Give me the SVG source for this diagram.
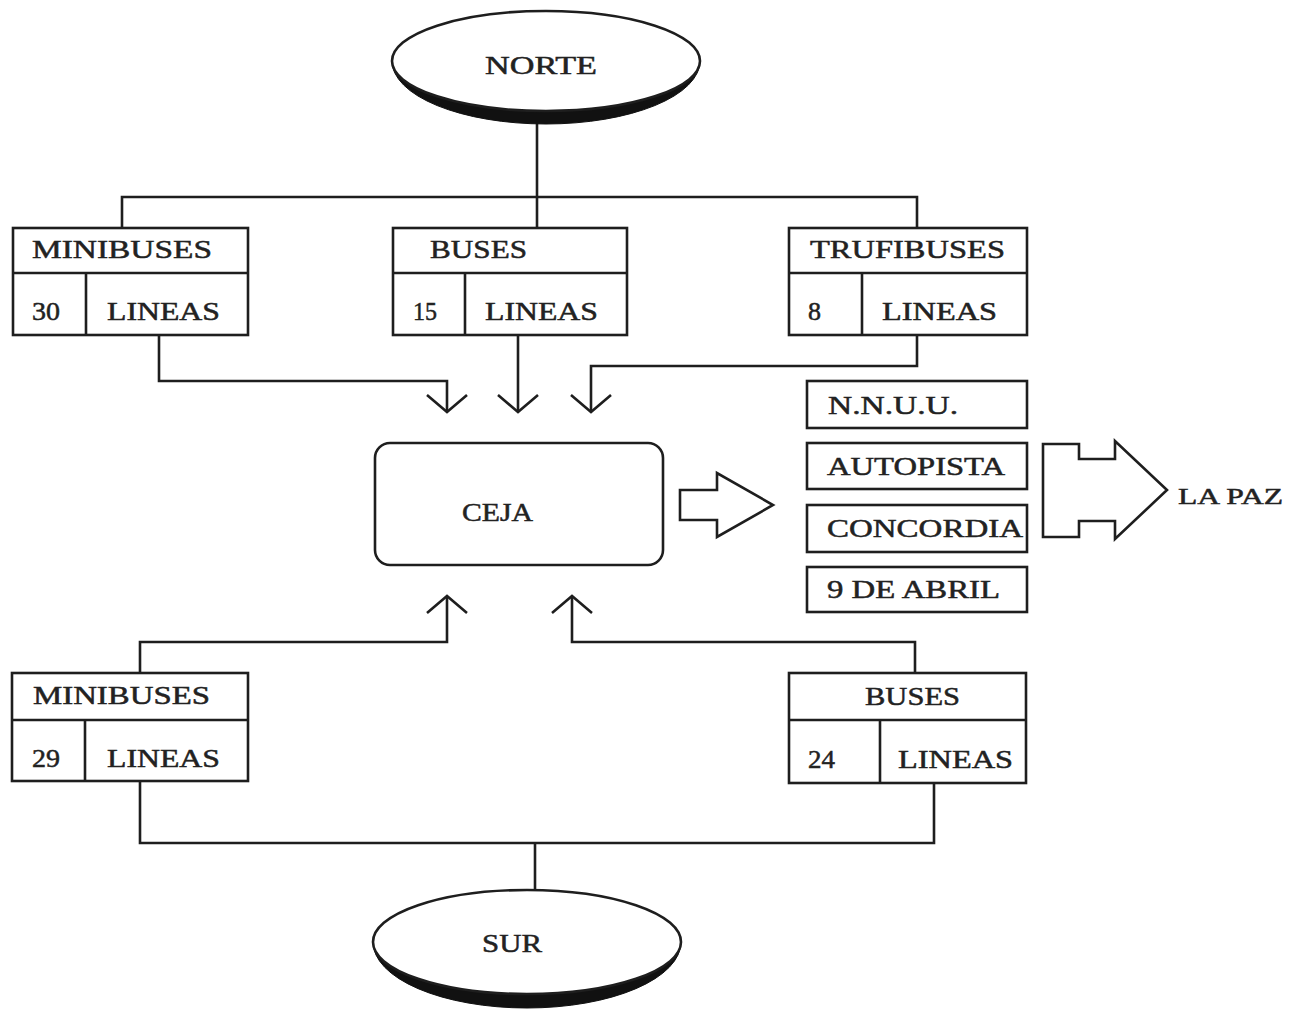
<svg xmlns="http://www.w3.org/2000/svg" width="1305" height="1011" viewBox="0 0 1305 1011">
  <style>
    .ln { fill: none; stroke: #1e1e1e; stroke-width: 2.6; stroke-linejoin: miter; }
    .box { fill: #ffffff; stroke: #1e1e1e; stroke-width: 2.6; }
    .shadow { fill: #111111; stroke: #111111; stroke-width: 1; }
    .t { font-family: "Liberation Serif", "Times New Roman", serif; font-size: 26px; fill: #222222; stroke: #222222; stroke-width: 0.5; }
    .tl { font-size: 24px; }
  </style>
  <defs>
    <!-- open V arrowhead, drawn along +x so orient="auto" follows the line -->
    <marker id="open" viewBox="0 0 20 44" refX="18" refY="22" markerWidth="20" markerHeight="44" markerUnits="userSpaceOnUse" orient="auto">
      <path d="M1,2 L18,22 L1,42" fill="none" stroke="#1e1e1e" stroke-width="2.6"/>
    </marker>
  </defs>
  <rect width="1305" height="1011" fill="#ffffff"/>

  <!-- connectors -->
  <g id="connectors">
    <!-- NORTE to top row -->
    <path class="ln" d="M537,118 V197"/>
    <path class="ln" d="M122,228 V197 H917 V228"/>
    <path class="ln" d="M537,197 V228"/>
    <!-- top row down into CEJA -->
    <path class="ln" d="M159,335 V381 H447 V412" marker-end="url(#open)"/>
    <path class="ln" d="M518,335 V412" marker-end="url(#open)"/>
    <path class="ln" d="M917,335 V366 H591 V412" marker-end="url(#open)"/>
    <!-- bottom row up into CEJA -->
    <path class="ln" d="M140,673 V642 H447 V596" marker-end="url(#open)"/>
    <path class="ln" d="M915,673 V642 H572 V596" marker-end="url(#open)"/>
    <!-- bottom row to SUR -->
    <path class="ln" d="M140,781 V843 H934 V783"/>
    <path class="ln" d="M535,843 V893"/>
    <!-- block arrows -->
    <path class="box" d="M680,490 H717 V473 L773,505 L717,537 V520 H680 Z"/>
    <path class="box" d="M1043,444 H1079 V459 H1115 V441 L1167,490 L1115,539 V521 H1079 V537 H1043 Z"/>
  </g>

  <!-- NORTE -->
  <g id="norte">
    <path class="shadow" d="M392,61 A154,63 0 0 0 700,61 A154,50 0 0 1 392,61 Z"/>
    <ellipse class="box" cx="546" cy="61" rx="154" ry="50"/>
    <text class="t" x="485" y="74" textLength="112" lengthAdjust="spacingAndGlyphs">NORTE</text>
  </g>

  <!-- top row -->
  <g id="minibuses-norte">
    <rect class="box" x="13" y="228" width="235" height="107"/>
    <path class="ln" d="M13,273 H248 M86,273 V335"/>
    <text class="t" x="32" y="258" textLength="180" lengthAdjust="spacingAndGlyphs">MINIBUSES</text>
    <text class="t" x="32" y="320" textLength="28" lengthAdjust="spacingAndGlyphs">30</text>
    <text class="t" x="107" y="320" textLength="113" lengthAdjust="spacingAndGlyphs">LINEAS</text>
  </g>
  <g id="buses-norte">
    <rect class="box" x="393" y="228" width="234" height="107"/>
    <path class="ln" d="M393,273 H627 M465,273 V335"/>
    <text class="t" x="430" y="258" textLength="97" lengthAdjust="spacingAndGlyphs">BUSES</text>
    <text class="t" x="413" y="320" textLength="24" lengthAdjust="spacingAndGlyphs">15</text>
    <text class="t" x="485" y="320" textLength="113" lengthAdjust="spacingAndGlyphs">LINEAS</text>
  </g>
  <g id="trufibuses">
    <rect class="box" x="789" y="228" width="238" height="107"/>
    <path class="ln" d="M789,273 H1027 M862,273 V335"/>
    <text class="t" x="810" y="258" textLength="195" lengthAdjust="spacingAndGlyphs">TRUFIBUSES</text>
    <text class="t" x="808" y="320">8</text>
    <text class="t" x="882" y="320" textLength="115" lengthAdjust="spacingAndGlyphs">LINEAS</text>
  </g>

  <!-- CEJA -->
  <g id="ceja">
    <rect class="box" x="375" y="443" width="288" height="122" rx="15" ry="15"/>
    <text class="t" x="462" y="521" textLength="71" lengthAdjust="spacingAndGlyphs">CEJA</text>
  </g>

  <!-- routes -->
  <g id="rutas">
    <rect class="box" x="807" y="381" width="220" height="47"/>
    <text class="t" x="828" y="414" textLength="130" lengthAdjust="spacingAndGlyphs">N.N.U.U.</text>
    <rect class="box" x="807" y="443" width="220" height="46"/>
    <text class="t" x="827" y="475" textLength="178" lengthAdjust="spacingAndGlyphs">AUTOPISTA</text>
    <rect class="box" x="807" y="505" width="220" height="47"/>
    <text class="t" x="827" y="537" textLength="196" lengthAdjust="spacingAndGlyphs">CONCORDIA</text>
    <rect class="box" x="807" y="567" width="220" height="45"/>
    <text class="t" x="827" y="598" textLength="173" lengthAdjust="spacingAndGlyphs">9 DE ABRIL</text>
  </g>

  <g id="la-paz">
    <text class="t tl" x="1178" y="504" textLength="105" lengthAdjust="spacingAndGlyphs">LA PAZ</text>
  </g>

  <!-- bottom row -->
  <g id="minibuses-sur">
    <rect class="box" x="12" y="673" width="236" height="108"/>
    <path class="ln" d="M12,720 H248 M85,720 V781"/>
    <text class="t" x="33" y="704" textLength="177" lengthAdjust="spacingAndGlyphs">MINIBUSES</text>
    <text class="t" x="32" y="767" textLength="28" lengthAdjust="spacingAndGlyphs">29</text>
    <text class="t" x="107" y="767" textLength="113" lengthAdjust="spacingAndGlyphs">LINEAS</text>
  </g>
  <g id="buses-sur">
    <rect class="box" x="789" y="673" width="237" height="110"/>
    <path class="ln" d="M789,720 H1026 M880,720 V783"/>
    <text class="t" x="865" y="705" textLength="95" lengthAdjust="spacingAndGlyphs">BUSES</text>
    <text class="t" x="808" y="768" textLength="27" lengthAdjust="spacingAndGlyphs">24</text>
    <text class="t" x="898" y="768" textLength="115" lengthAdjust="spacingAndGlyphs">LINEAS</text>
  </g>

  <!-- SUR -->
  <g id="sur">
    <path class="shadow" d="M373,942 A154,66 0 0 0 681,942 A154,52 0 0 1 373,942 Z"/>
    <ellipse class="box" cx="527" cy="942" rx="154" ry="52"/>
    <text class="t" x="482" y="952" textLength="60" lengthAdjust="spacingAndGlyphs">SUR</text>
  </g>
</svg>
